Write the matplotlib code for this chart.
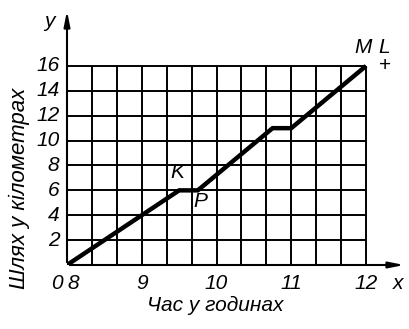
import matplotlib
matplotlib.use("Agg")
import matplotlib.pyplot as plt
import numpy as np

plt.rcParams['font.family'] = ['Liberation Sans', 'DejaVu Sans']

# data
hours = [8, 9.5, 9.75, 10.75, 11, 12]
km = [0, 6, 6, 11, 11, 16]
x_ticks = [8, 9, 10, 11, 12]
x_tick_labels = ['8', '9', '10', '11', '12']
y_ticks = [2, 4, 6, 8, 10, 12, 14, 16]
y_tick_labels = ['2', '4', '6', '8', '10', '12', '14', '16']
grid_x = [8 + i / 3 for i in range(13)]
grid_y = list(range(0, 17, 2))

W, H = 409, 329
fig = plt.figure(figsize=(W / 100, H / 100), dpi=100)
x0, y0 = 67, 265
pxh = 74.75
pxk = 12.44
xmax = 8 + (407 - x0) / pxh
ymax = (y0 - 8) / pxk
ax = fig.add_axes([x0 / W, (H - y0) / H, (407 - x0) / W, (y0 - 8) / H])
ax.set_xlim(8, xmax)
ax.set_ylim(0, ymax)
for s in ax.spines.values():
    s.set_visible(False)
ax.set_xticks([])
ax.set_yticks([])

for gx in grid_x:
    ax.plot([gx, gx], [0, 16], color='black', lw=1.4, solid_capstyle='butt')
for gy in grid_y:
    ax.plot([8, 12], [gy, gy], color='black', lw=1.4, solid_capstyle='butt')

# axes with arrows
ax.annotate('', xy=(xmax, 0), xytext=(8, 0),
            arrowprops=dict(arrowstyle='-|>,head_length=0.9,head_width=0.18', color='black', lw=1.5),
            annotation_clip=False)
ax.annotate('', xy=(8, ymax), xytext=(8, 0),
            arrowprops=dict(arrowstyle='-|>,head_length=0.9,head_width=0.18', color='black', lw=1.5),
            annotation_clip=False)

ax.plot(hours, km, color='black', lw=3.2, solid_capstyle='butt', solid_joinstyle='miter')

fs = 15
tk = dict(fontsize=fs, style='italic', color='black')
for v, l in zip(x_ticks, x_tick_labels):
    xx = v + (0.08 if v == 8 else 0)
    ax.text(xx, -0.75, l, ha='center', va='top', **tk)
ax.text(7.87, -0.75, '0', ha='center', va='top', **tk)
for v, l in zip(y_ticks, y_tick_labels):
    ax.text(7.9, v, l, ha='right', va='center', **tk)

ax.text(12.43, -0.75, 'x', ha='center', va='top', **tk)
ax.text(7.76, 19.6, 'y', ha='center', va='center', **tk)
ax.text(9.47, 7.4, 'K', ha='center', va='center', **tk)
ax.text(9.78, 5.1, 'P', ha='center', va='center', **tk)
ax.text(11.96, 17.5, 'M', ha='center', va='center', **tk)
ax.text(12.24, 17.5, 'L', ha='center', va='center', **tk)
ax.text(12.25, 16.0, '+', ha='center', va='center', fontsize=15, color='black')

fig.text(215 / W, 1 - 305 / H, 'Час у годинах', ha='center', va='center',
         fontsize=fs, style='italic')
fig.text(19 / W, 1 - 188 / H, 'Шлях у кілометрах', ha='center', va='center',
         rotation=90, fontsize=16, style='italic')

fig.savefig('out.png', dpi=100)
